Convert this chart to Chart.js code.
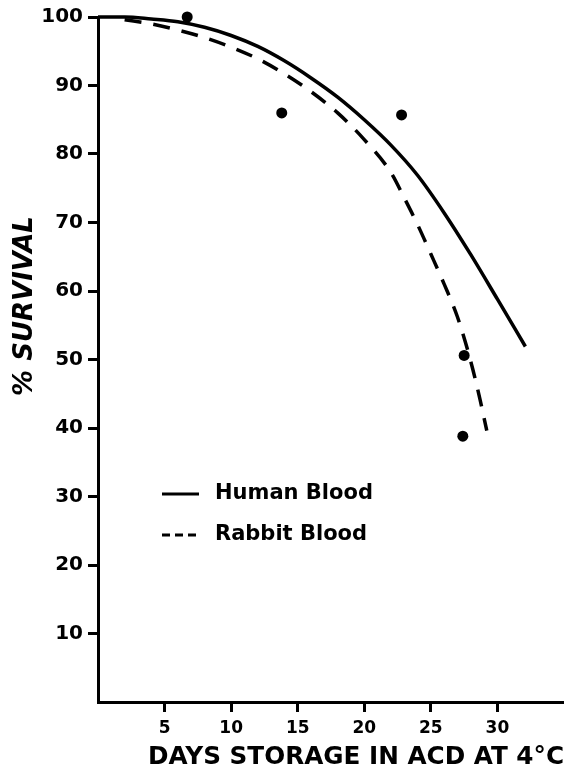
<!DOCTYPE html>
<html>
<head>
<meta charset="utf-8">
<script src="https://cdn.jsdelivr.net/npm/chart.js@4"></script>
<style>
  html, body { margin: 0; padding: 0; background: #fff; }
  #wrap { width: 564px; height: 773px; }
</style>
</head>
<body>
<div id="wrap"><canvas id="chart" width="564" height="773"></canvas></div>
<script>
// values
const humanDays = [0, 2, 4, 6, 8, 10, 12, 14, 16, 18, 20, 22, 24, 26, 28, 30, 32.1];
const humanSurvival = [100, 100, 99.7, 99.3, 98.5, 97.3, 95.7, 93.6, 91.1, 88.3, 85.0, 81.3, 76.9, 71.4, 65.3, 58.8, 51.9];

const rabbitDays = [2, 4, 6, 8, 10, 12, 14, 16, 18, 20, 22, 23, 24, 25, 26, 27, 28, 28.7, 29.2];
const rabbitSurvival = [99.6, 99.0, 98.1, 97.0, 95.6, 93.9, 91.7, 89.1, 86.0, 82.1, 77.3, 73.6, 69.7, 65.4, 61.0, 56.2, 49.7, 44.1, 39.6];

const pointDays = [6.7, 13.8, 22.8, 27.5, 27.4];
const pointSurvival = [100, 86.0, 85.7, 50.6, 38.8];

const xTicks = [5, 10, 15, 20, 25, 30];
const yTicks = [10, 20, 30, 40, 50, 60, 70, 80, 90, 100];

const xTitle = 'DAYS STORAGE IN ACD AT 4°C';
const yTitle = '% SURVIVAL';

const FONT = '"DejaVu Sans", "Noto Sans", sans-serif';

function pairs(xs, ys) {
  return xs.map((x, i) => ({ x: x, y: ys[i] }));
}

// draws the axis titles and the legend inside the plot
const overlay = {
  id: 'overlay',
  afterDraw(chart) {
    const c = chart.ctx;
    c.save();
    c.fillStyle = '#000';

    // y axis title, sits above centre like the original
    c.save();
    c.translate(25, 306);
    c.rotate(-Math.PI / 2);
    c.font = 'italic bold 26px ' + FONT;
    c.textAlign = 'center';
    c.textBaseline = 'middle';
    c.fillText(yTitle, 0, 0);
    c.restore();

    // x axis title, right aligned
    c.font = 'bold 24.7px ' + FONT;
    c.textAlign = 'right';
    c.textBaseline = 'middle';
    c.fillText(xTitle, 564, 758);

    // legend
    const items = chart.data.datasets.filter(d => d.inLegend);
    items.forEach((ds, i) => {
      const y = 494 + i * 41;
      c.strokeStyle = '#000';
      c.lineWidth = 3;
      c.setLineDash(ds.borderDash && ds.borderDash.length ? [8, 5] : []);
      c.beginPath();
      c.moveTo(162, y);
      c.lineTo(199, y);
      c.stroke();
      c.setLineDash([]);
      c.font = 'bold 21px ' + FONT;
      c.textAlign = 'left';
      c.textBaseline = 'middle';
      c.fillText(ds.label, 215, y);
    });
    c.restore();
  }
};

const ctx = document.getElementById('chart').getContext('2d');
const config = {
  type: 'line',
  data: {
    datasets: [
      {
        label: 'Human Blood',
        inLegend: true,
        data: pairs(humanDays, humanSurvival),
        borderColor: '#000',
        borderWidth: 3.5,
        pointRadius: 0,
        cubicInterpolationMode: 'monotone',
        clip: false
      },
      {
        label: 'Rabbit Blood',
        inLegend: true,
        data: pairs(rabbitDays, rabbitSurvival),
        borderColor: '#000',
        borderWidth: 3.5,
        borderDash: [17, 12],
        pointRadius: 0,
        cubicInterpolationMode: 'monotone',
        clip: false
      },
      {
        label: 'Observed',
        data: pairs(pointDays, pointSurvival),
        showLine: false,
        pointRadius: 5.5,
        pointBackgroundColor: '#000',
        pointBorderColor: '#000',
        pointBorderWidth: 0,
        clip: false
      }
    ]
  },
  options: {
    animation: false,
    responsive: false,
    devicePixelRatio: 1,
    layout: { autoPadding: false, padding: { top: 17, right: 0, left: 0, bottom: 0 } },
    scales: {
      x: {
        type: 'linear',
        min: 0,
        max: 35,
        afterFit: s => { s.height = 71; s.paddingRight = 0; },
        afterBuildTicks: s => { s.ticks = xTicks.map(v => ({ value: v })); },
        border: { color: '#000', width: 3 },
        grid: { drawOnChartArea: false, drawTicks: true, tickLength: 10, tickWidth: 3, tickColor: '#000' },
        ticks: {
          color: '#000',
          padding: 6,
          maxRotation: 0,
          font: { family: FONT, size: 17, weight: 'bold' }
        }
      },
      y: {
        type: 'linear',
        min: 0,
        max: 100,
        afterFit: s => { s.width = 98; },
        afterBuildTicks: s => { s.ticks = yTicks.map(v => ({ value: v })); },
        border: { color: '#000', width: 3 },
        grid: { drawOnChartArea: false, drawTicks: true, tickLength: 10, tickWidth: 3, tickColor: '#000' },
        ticks: {
          color: '#000',
          padding: 5,
          font: { family: FONT, size: 20, weight: 'bold' }
        }
      }
    },
    plugins: {
      legend: { display: false },
      tooltip: { enabled: false }
    }
  },
  plugins: [overlay]
};
const myChart = new Chart(ctx, config);
</script>
</body>
</html>
